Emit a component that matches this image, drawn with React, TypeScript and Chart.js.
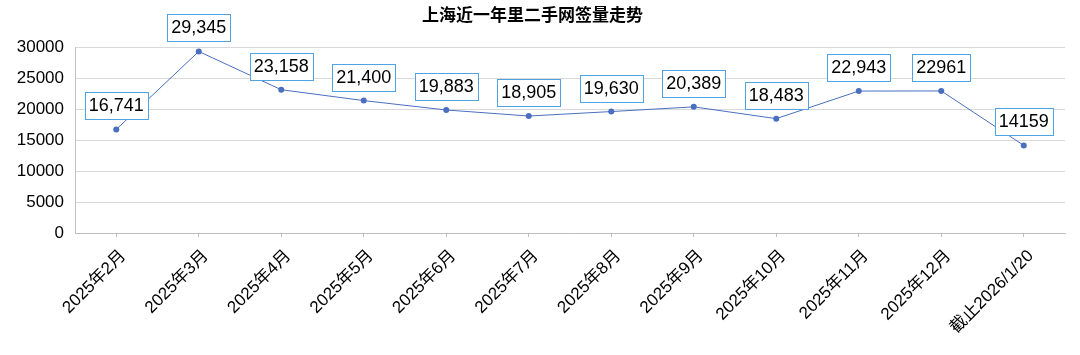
import React, { useEffect, useRef } from "react";
import { Chart, registerables } from "chart.js";

Chart.register(...registerables);

const categories = [
  "2025年2月", "2025年3月", "2025年4月", "2025年5月", "2025年6月", "2025年7月",
  "2025年8月", "2025年9月", "2025年10月", "2025年11月", "2025年12月", "截止2026/1/20",
];
const values = [16741, 29345, 23158, 21400, 19883, 18905, 19630, 20389, 18483, 22943, 22961, 14159];
const valueLabels = [
  "16,741", "29,345", "23,158", "21,400", "19,883", "18,905",
  "19,630", "20,389", "18,483", "22,943", "22961", "14159",
];
const yTicks = [0, 5000, 10000, 15000, 20000, 25000, 30000];
const title = "上海近一年里二手网签量走势";

const FONT = "'Liberation Sans', 'Noto Sans CJK SC', sans-serif";

const labelPlugin = {
  id: "boxLabels",
  afterDatasetsDraw(chart: any) {
    const ctx = chart.ctx;
    const meta = chart.getDatasetMeta(0);
    ctx.save();
    ctx.font = `18px ${FONT}`;
    ctx.textAlign = "center";
    ctx.textBaseline = "middle";
    meta.data.forEach((pt: any, i: number) => {
      const text = valueLabels[i];
      const w = Math.round(ctx.measureText(text).width + 8);
      const h = 27;
      const cx = pt.x;
      const bottom = pt.y - 10;
      const top = Math.round(bottom - h);
      const left = Math.round(cx - w / 2);
      ctx.fillStyle = "#ffffff";
      ctx.fillRect(left + 0.5, top + 0.5, w, h);
      ctx.strokeStyle = "#4FA3E0";
      ctx.lineWidth = 1;
      ctx.strokeRect(left + 0.5, top + 0.5, w, h);
      ctx.fillStyle = "#000000";
      ctx.fillText(text, cx, top + h / 2 + 1);
    });
    ctx.restore();
  },
};

export default function App() {
  const ref = useRef<HTMLCanvasElement>(null);
  useEffect(() => {
    if (!ref.current) return;
    const chart = new Chart(ref.current, {
      type: "line",
      data: {
        labels: categories,
        datasets: [
          {
            data: values,
            borderColor: "#4A6FC0",
            backgroundColor: "#4A6FC0",
            borderWidth: 1,
            pointRadius: 3,
            pointHoverRadius: 3,
            pointBackgroundColor: "#4A6FC0",
            pointBorderWidth: 0,
            tension: 0,
          },
        ],
      },
      options: {
        animation: false,
        responsive: true,
        maintainAspectRatio: false,
        layout: { padding: { left: 0, right: 15, top: 0, bottom: 0 } },
        plugins: {
          legend: { display: false },
          tooltip: { enabled: false },
          title: {
            display: true,
            text: title,
            color: "#000",
            font: { family: FONT, size: 17, weight: "bold" },
            padding: { top: 6, bottom: 21 },
          },
        },
        scales: {
          x: {
            offset: true,
            grid: {
              display: true,
              drawOnChartArea: false,
              drawTicks: true,
              tickLength: 4,
              offset: false,
              color: "#BFBFBF",
            },
            border: { display: true, color: "#BFBFBF", width: 1 },
            ticks: {
              color: "#000",
              font: { family: FONT, size: 17 },
              maxRotation: 45,
              minRotation: 45,
              autoSkip: false,
              padding: 9,
              labelOffset: 7,
            },
            afterFit(scale: any) {
              scale.height = 122;
            },
          },
          y: {
            min: 0,
            max: 30000,
            afterBuildTicks(scale: any) {
              scale.ticks = yTicks.map((v) => ({ value: v }));
            },
            grid: { color: "#D9D9D9", drawTicks: false },
            border: { display: true, color: "#BFBFBF", width: 1 },
            ticks: {
              color: "#000",
              font: { family: FONT, size: 17 },
              padding: 11,
              callback: (v: any) => String(v),
            },
            afterFit(scale: any) {
              scale.width = 75;
            },
          },
        },
      },
      plugins: [labelPlugin],
    } as any);
    return () => chart.destroy();
  }, []);
  return (
    <div style={{ position: "absolute", left: 0, top: 0, width: 1080, height: 355, background: "#fff" }}>
      <canvas ref={ref} />
    </div>
  );
}
